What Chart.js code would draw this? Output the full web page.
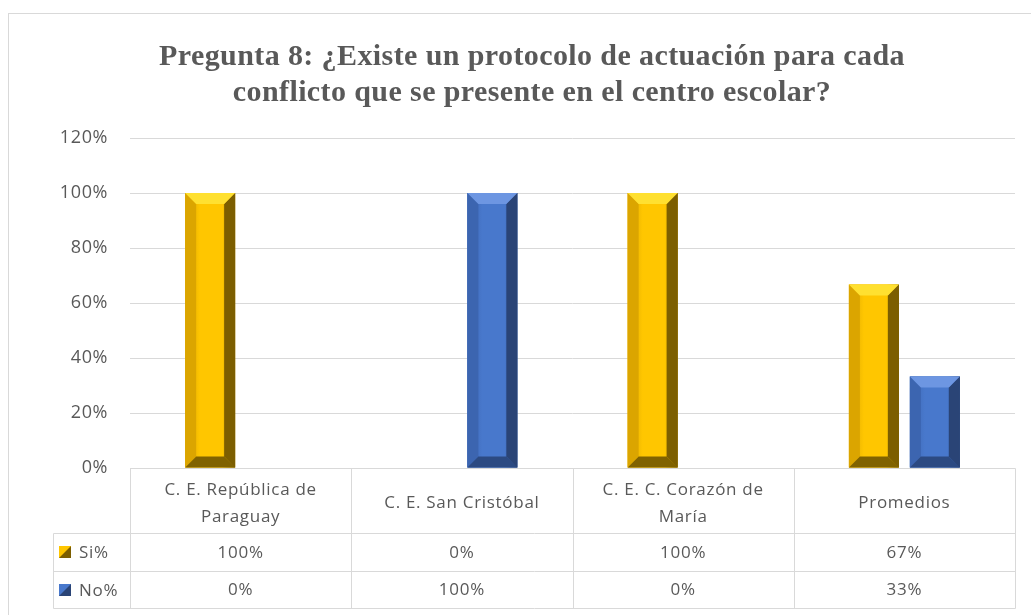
<!DOCTYPE html>
<html>
<head>
<meta charset="utf-8">
<script src="https://cdn.jsdelivr.net/npm/chart.js@4"></script>
<style>
  html, body { margin: 0; padding: 0; background: #fff; }
  #wrap { width: 1031px; height: 615px; }
</style>
</head>
<body>
<div id="wrap"><canvas id="chart"></canvas></div>
<script>
const categories = [['C. E. República de', 'Paraguay'], 'C. E. San Cristóbal', ['C. E. C. Corazón de', 'María'], 'Promedios'];
const seriesNames = ['Si%', 'No%'];
const siValues = [1, 0, 1, 0.667];
const noValues = [0, 1, 0, 0.333];
const siLabels = ['100%', '0%', '100%', '67%'];
const noLabels = ['0%', '100%', '0%', '33%'];
const titleLines = ['Pregunta 8: ¿Existe un protocolo de actuación para cada', 'conflicto que se presente en el centro escolar?'];

const bevel = [
  { face: '#FFC600', left: '#DBA500', right: '#7C5E00', top: '#FFE030', bottom: '#806200' },
  { face: '#4878CC', left: '#3C65B0', right: '#2A4476', top: '#6D96E2', bottom: '#2C4A82' }
];

const gray = '#595959';
const lineGray = '#d9d9d9';

// a bit of letter spacing, Excel renders the text wider
const spacing = {
  id: 'spacing',
  beforeDraw(chart) { chart.ctx.letterSpacing = '0.6px'; }
};

// draws the beveled look on top of the plain bars
const bevelBars = {
  id: 'bevelBars',
  afterDatasetsDraw(chart) {
    const ctx = chart.ctx;
    chart.data.datasets.forEach((ds, di) => {
      const c = bevel[di];
      chart.getDatasetMeta(di).data.forEach(bar => {
        const l = bar.x - bar.width / 2, r = bar.x + bar.width / 2;
        const t = bar.y, bt = bar.base;
        if (bt - t < 1) return;
        const b = Math.min(11, (bt - t) / 2, bar.width / 2);
        const poly = (pts, col) => {
          ctx.beginPath();
          ctx.moveTo(pts[0][0], pts[0][1]);
          pts.slice(1).forEach(p => ctx.lineTo(p[0], p[1]));
          ctx.closePath();
          ctx.fillStyle = col;
          ctx.fill();
        };
        ctx.save();
        const g = ctx.createLinearGradient(l, 0, r, 0);
        g.addColorStop(0, c.left);
        g.addColorStop(0.3, c.face);
        g.addColorStop(0.75, c.face);
        g.addColorStop(1, c.right);
        ctx.fillStyle = g;
        ctx.fillRect(l, t, r - l, bt - t);
        poly([[l, t], [l + b, t + b], [l + b, bt - b], [l, bt]], c.left);
        poly([[r, t], [r - b, t + b], [r - b, bt - b], [r, bt]], c.right);
        poly([[l, t], [r, t], [r - b, t + b], [l + b, t + b]], c.top);
        poly([[l, bt], [r, bt], [r - b, bt - b], [l + b, bt - b]], c.bottom);
        ctx.restore();
      });
    });
  }
};

// title, data table under the plot and the outer frame
const dataTable = {
  id: 'dataTable',
  afterDraw(chart) {
    const ctx = chart.ctx;
    const x = chart.scales.x;
    const area = chart.chartArea;
    const n = categories.length;
    const colW = (area.right - area.left) / n;
    const top = area.bottom, row1 = top + 65, row2 = row1 + 38, row3 = row2 + 37;
    const legLeft = 53;

    ctx.save();
    // title is centred on the whole Excel frame, which runs past the right edge
    ctx.fillStyle = gray;
    ctx.font = 'bold 30px "Liberation Serif"';
    ctx.letterSpacing = '0.4px';
    ctx.textAlign = 'center';
    ctx.textBaseline = 'middle';
    ctx.fillText(titleLines[0], 532, 57);
    ctx.fillText(titleLines[1], 532, 93);

    ctx.strokeStyle = lineGray;
    ctx.lineWidth = 1;
    const line = (x1, y1, x2, y2) => {
      ctx.beginPath();
      ctx.moveTo(Math.round(x1) + 0.5, Math.round(y1) + 0.5);
      ctx.lineTo(Math.round(x2) + 0.5, Math.round(y2) + 0.5);
      ctx.stroke();
    };
    line(area.left, top, area.right, top);
    line(legLeft, row1, area.right, row1);
    line(legLeft, row2, area.right, row2);
    line(legLeft, row3, area.right, row3);
    line(legLeft, row1, legLeft, row3);
    for (let i = 0; i <= n; i++) {
      const lx = area.left + i * colW;
      line(lx, top, lx, row3);
    }

    ctx.fillStyle = gray;
    ctx.font = '17px "Open Sans"';
    ctx.letterSpacing = '0.7px';
    categories.forEach((cat, i) => {
      const cx = x.getPixelForValue(i);
      const lines = Array.isArray(cat) ? cat : [cat];
      const mid = (top + row1) / 2 + 3;
      lines.forEach((t, k) => {
        ctx.fillText(t, cx, mid + (k - (lines.length - 1) / 2) * 27);
      });
      ctx.fillText(siLabels[i], cx, (row1 + row2) / 2 + 1);
      ctx.fillText(noLabels[i], cx, (row2 + row3) / 2 + 1);
    });

    // legend keys
    [row1, row2].forEach((ry, di) => {
      const c = bevel[di];
      const ky = Math.round((ry + (di === 0 ? row2 : row3)) / 2) - 6;
      const kx = 59;
      ctx.fillStyle = c.right;
      ctx.fillRect(kx, ky, 12, 12);
      ctx.beginPath();
      ctx.moveTo(kx, ky);
      ctx.lineTo(kx + 12, ky);
      ctx.lineTo(kx, ky + 12);
      ctx.closePath();
      ctx.fillStyle = c.face;
      ctx.fill();
      ctx.fillStyle = gray;
      ctx.textAlign = 'left';
      ctx.fillText(seriesNames[di], 79, ky + 7);
    });

    ctx.strokeStyle = lineGray;
    ctx.strokeRect(8.5, 13.5, 1040, 620);
    ctx.restore();
  }
};

new Chart(document.getElementById('chart'), {
  type: 'bar',
  data: {
    labels: categories,
    datasets: [
      { label: seriesNames[0], data: siValues, backgroundColor: bevel[0].face, borderWidth: 0 },
      { label: seriesNames[1], data: noValues, backgroundColor: bevel[1].face, borderWidth: 0 }
    ]
  },
  options: {
    responsive: true,
    maintainAspectRatio: false,
    animation: false,
    categoryPercentage: 0.551,
    barPercentage: 0.82,
    layout: { padding: { left: 0, right: 16, top: 138, bottom: 147 } },
    plugins: {
      legend: { display: false },
      tooltip: { enabled: false },
      title: { display: false }
    },
    scales: {
      x: { display: false },
      y: {
        min: 0,
        max: 1.2,
        afterFit(scale) { scale.width = 130; },
        border: { display: false },
        grid: { color: lineGray, drawTicks: false },
        ticks: {
          stepSize: 0.2,
          padding: 22,
          color: gray,
          font: { family: 'Open Sans', size: 18 },
          callback: v => Math.round(v * 100) + '%'
        }
      }
    }
  },
  plugins: [spacing, bevelBars, dataTable]
});
</script>
</body>
</html>
